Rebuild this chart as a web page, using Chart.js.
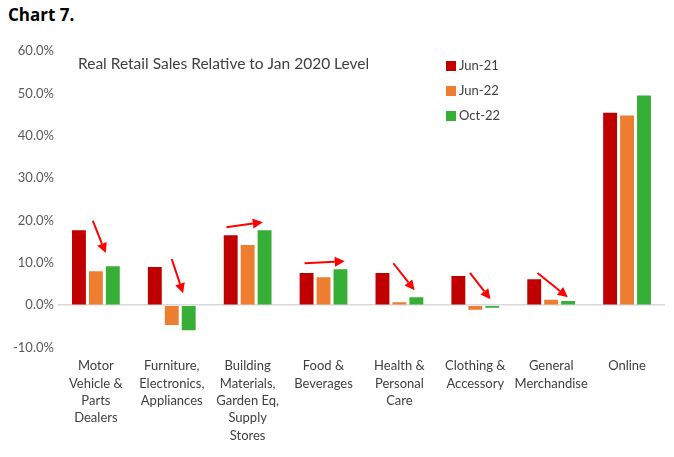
<!DOCTYPE html>
<html>
<head>
<meta charset="utf-8">
<script src="https://cdn.jsdelivr.net/npm/chart.js@4.4.0/dist/chart.umd.min.js"></script>
<style>
  html, body { margin: 0; padding: 0; background: #fff; }
  #wrap { position: relative; width: 674px; height: 457px; }
  #head { position: absolute; left: 8px; top: 3px; font: bold 17px "Open Sans", sans-serif; color: #000; }
  canvas { position: absolute; left: 0; top: 0; }
</style>
</head>
<body>
<div id="wrap">
  <div id="head">Chart 7.</div>
  <canvas id="chart" width="674" height="457"></canvas>
</div>
<script>
const categories = [
  ["Motor", "Vehicle &", "Parts", "Dealers"],
  ["Furniture,", "Electronics,", "Appliances"],
  ["Building", "Materials,", "Garden Eq,", "Supply", "Stores"],
  ["Food &", "Beverages"],
  ["Health &", "Personal", "Care"],
  ["Clothing &", "Accessory"],
  ["General", "Merchandise"],
  ["Online"]
];
const seriesNames = ["Jun-21", "Jun-22", "Oct-22"];
const jun21 = [17.7, 9.0, 16.5, 7.6, 7.6, 6.9, 6.1, 45.4];
const jun22 = [8.0, -4.7, 14.2, 6.6, 0.7, -1.1, 1.3, 44.8];
const oct22 = [9.2, -5.9, 17.7, 8.5, 1.9, -0.6, 1.0, 49.5];
const colors = ["#C00000", "#ED7D31", "#37AF37"];
const yTicks = [-10, 0, 10, 20, 30, 40, 50, 60];
const chartTitle = "Real Retail Sales Relative to Jan 2020 Level";

// arrows: [category index, x offset start, value start, x offset end, value end]
const arrows = [
  [0, -0.04, 19.9, 0.13, 12.3],
  [1, 0.0, 10.9, 0.15, 2.8],
  [2, -0.28, 18.4, 0.2, 19.6],
  [3, -0.25, 9.9, 0.28, 10.4],
  [4, -0.08, 9.9, 0.2, 3.5],
  [5, -0.07, 7.6, 0.2, 1.4],
  [6, -0.18, 7.6, 0.22, 1.9]
];

const extras = {
  id: "extras",
  afterDatasetsDraw(chart) {
    const ctx = chart.ctx;
    const xs = chart.scales.x, ys = chart.scales.y;
    const step = xs.getPixelForValue(1) - xs.getPixelForValue(0);
    ctx.save();
    ctx.strokeStyle = "#FF0000";
    ctx.fillStyle = "#FF0000";
    ctx.lineWidth = 2;
    arrows.forEach(a => {
      const x1 = xs.getPixelForValue(a[0]) + a[1] * step;
      const y1 = ys.getPixelForValue(a[2]);
      const x2 = xs.getPixelForValue(a[0]) + a[3] * step;
      const y2 = ys.getPixelForValue(a[4]);
      const ang = Math.atan2(y2 - y1, x2 - x1);
      const hl = 10, hw = 5;
      const bx = x2 - hl * Math.cos(ang), by = y2 - hl * Math.sin(ang);
      ctx.beginPath();
      ctx.moveTo(x1, y1);
      ctx.lineTo(bx, by);
      ctx.stroke();
      ctx.beginPath();
      ctx.moveTo(x2, y2);
      ctx.lineTo(bx + hw * Math.sin(ang), by - hw * Math.cos(ang));
      ctx.lineTo(bx - hw * Math.sin(ang), by + hw * Math.cos(ang));
      ctx.closePath();
      ctx.fill();
    });
    // inner title
    ctx.fillStyle = "#404040";
    ctx.font = "15.5px Lato, sans-serif";
    ctx.textBaseline = "middle";
    ctx.fillText(chartTitle, 78, 64);
    // legend
    ctx.font = "13px Lato, sans-serif";
    seriesNames.forEach((n, i) => {
      const y = 66 + i * 25;
      ctx.fillStyle = colors[i];
      ctx.fillRect(446, y - 5, 10, 10);
      ctx.fillStyle = "#404040";
      ctx.fillText(n, 459, y);
    });
    ctx.restore();
  }
};

new Chart(document.getElementById("chart"), {
  type: "bar",
  data: {
    labels: categories,
    datasets: [
      { label: seriesNames[0], data: jun21, backgroundColor: colors[0] },
      { label: seriesNames[1], data: jun22, backgroundColor: colors[1] },
      { label: seriesNames[2], data: oct22, backgroundColor: colors[2] }
    ]
  },
  options: {
    responsive: false,
    animation: false,
    layout: { padding: { top: 51, left: 9, right: 9, bottom: 11 } },
    datasets: { bar: { categoryPercentage: 0.67, barPercentage: 0.82 } },
    plugins: { legend: { display: false }, tooltip: { enabled: false } },
    scales: {
      x: {
        grid: { display: false },
        border: { display: false },
        ticks: { color: "#404040", font: { family: "Lato", size: 13, lineHeight: 1.33 }, padding: 2, maxRotation: 0, autoSkip: false }
      },
      y: {
        min: -10, max: 60,
        afterBuildTicks: s => { s.ticks = yTicks.map(v => ({ value: v })); },
        grid: {
          color: c => c.tick && c.tick.value === 0 ? "#D9D9D9" : "rgba(0,0,0,0)",
          lineWidth: 1.5,
          drawTicks: false
        },
        border: { display: false },
        ticks: {
          color: "#595959",
          font: { family: "Lato", size: 13 },
          padding: 4,
          callback: v => v.toFixed(1) + "%"
        }
      }
    }
  },
  plugins: [extras]
});
</script>
</body>
</html>
